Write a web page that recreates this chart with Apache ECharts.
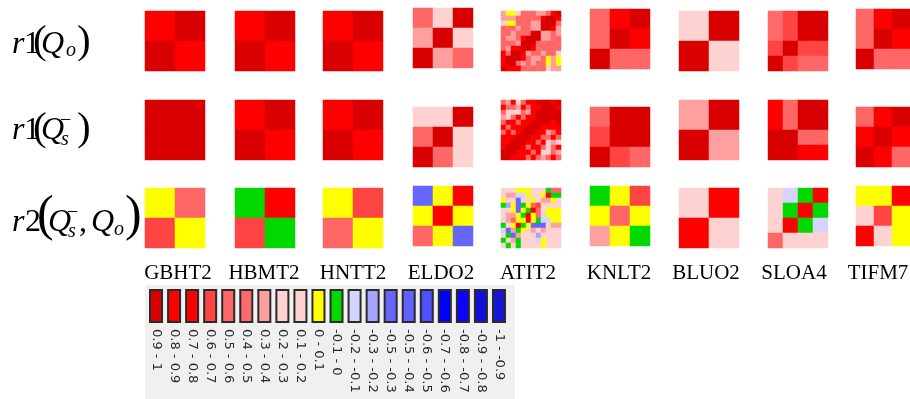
<!DOCTYPE html>
<html>
<head>
<meta charset="utf-8">
<script src="https://cdn.jsdelivr.net/npm/echarts@6/dist/echarts.min.js"></script>
<style>
  html, body { margin: 0; padding: 0; background: #fff; }
  #chart { width: 910px; height: 399px; }
</style>
</head>
<body>
<div id="chart"></div>
<script>
// Stations (one column of correlation matrices each)
const stations = ['GBHT2', 'HBMT2', 'HNTT2', 'ELDO2', 'ATIT2', 'KNLT2', 'BLUO2', 'SLOA4', 'TIFM7'];

// Correlation matrices, rows listed top to bottom as displayed.
// r1(Qo): lag-1 autocorrelation of observed flow
const r1Qo = [
  [[0.85, 1], [1, 0.85]],
  [[0.85, 1], [1, 0.85]],
  [[0.85, 1], [1, 0.85]],
  [[0.55, 0.25, 1], [0.35, 1, 0.25], [1, 0.35, 0.55]],
  [
    [0.35, 0.05, 0.05, 0.25, 0.55, 0.45, 0.55, 0.35, 0.35, 0.55, 0.82, 1],
    [0.35, 0.35, 0.35, 0.55, 0.45, 0.55, 0.45, 0.55, 0.82, 0.93, 1, 0.82],
    [0.25, 0.05, 0.05, 0.55, 0.45, 0.55, 0.35, 0.35, 0.93, 1, 0.93, 0.55],
    [0.55, 0.45, 0.55, 0.35, 0.55, 0.45, 0.35, 0.35, 1, 0.93, 0.82, 0.35],
    [0.45, 0.55, 0.35, 0.55, 0.45, 0.55, 0.93, 1, 0.35, 0.35, 0.55, 0.35],
    [0.55, 0.35, 0.35, 0.55, 0.82, 0.93, 1, 0.93, 0.35, 0.35, 0.45, 0.55],
    [0.45, 0.55, 0.45, 0.35, 0.93, 1, 0.93, 0.55, 0.45, 0.55, 0.55, 0.45],
    [0.55, 0.35, 0.82, 0.82, 1, 0.93, 0.82, 0.45, 0.55, 0.45, 0.45, 0.55],
    [0.82, 0.55, 0.93, 1, 0.82, 0.35, 0.55, 0.55, 0.35, 0.55, 0.55, 0.25],
    [0.82, 0.93, 1, 0.93, 0.82, 0.45, 0.35, 0.35, 0.55, 0.05, 0.35, 0.05],
    [0.82, 1, 0.93, 0.55, 0.35, 0.55, 0.35, 0.45, 0.45, 0.05, 0.35, 0.05],
    [1, 0.82, 0.82, 0.82, 0.55, 0.45, 0.55, 0.45, 0.55, 0.25, 0.35, 0.35]
  ],
  [[0.55, 0.85, 1], [0.55, 1, 0.85], [1, 0.55, 0.55]],
  [[0.25, 1], [1, 0.25]],
  [[0.45, 0.65, 0.95, 1], [0.45, 0.65, 1, 0.95], [0.65, 1, 0.65, 0.65], [1, 0.65, 0.55, 0.55]],
  [[0.55, 0.85, 1], [0.55, 1, 0.85], [1, 0.55, 0.55]]
];

// r1(Qs-): lag-1 autocorrelation of simulated flow
const r1Qs = [
  [[0.95, 1], [1, 0.95]],
  [[0.85, 1], [1, 0.85]],
  [[0.85, 1], [1, 0.85]],
  [[0.25, 0.25, 1], [0.55, 1, 0.25], [1, 0.55, 0.25]],
  [
    [0.55, 0.35, 0.82, 0.25, 0.55, 0.82, 0.82, 0.93, 0.93, 0.93, 0.82, 1],
    [0.82, 0.55, 0.55, 0.35, 0.82, 0.55, 0.82, 0.82, 0.93, 0.93, 1, 0.82],
    [0.55, 0.25, 0.25, 0.25, 0.55, 0.35, 0.82, 0.93, 0.93, 1, 0.93, 0.93],
    [0.35, 0.25, 0.55, 0.82, 0.55, 0.82, 0.82, 0.93, 1, 0.93, 0.93, 0.93],
    [0.55, 0.82, 0.82, 0.55, 0.82, 0.82, 0.93, 1, 0.93, 0.93, 0.82, 0.93],
    [0.82, 0.55, 0.82, 0.82, 0.82, 0.93, 1, 0.93, 0.82, 0.82, 0.82, 0.82],
    [0.55, 0.82, 0.55, 0.82, 0.93, 1, 0.93, 0.82, 0.82, 0.35, 0.55, 0.82],
    [0.82, 0.82, 0.82, 0.93, 1, 0.93, 0.82, 0.82, 0.55, 0.55, 0.82, 0.55],
    [0.82, 0.82, 0.93, 1, 0.93, 0.82, 0.82, 0.55, 0.82, 0.25, 0.35, 0.25],
    [0.82, 0.93, 1, 0.93, 0.82, 0.55, 0.82, 0.82, 0.55, 0.25, 0.55, 0.82],
    [0.93, 1, 0.93, 0.82, 0.82, 0.82, 0.55, 0.82, 0.25, 0.25, 0.55, 0.35],
    [1, 0.93, 0.82, 0.82, 0.82, 0.55, 0.82, 0.55, 0.35, 0.55, 0.82, 0.55]
  ],
  [[0.55, 0.95, 1], [0.65, 1, 0.95], [1, 0.65, 0.55]],
  [[0.35, 1], [1, 0.35]],
  [[0.85, 0.55, 0.95, 1], [0.85, 0.55, 1, 0.95], [0.95, 1, 0.55, 0.55], [1, 0.95, 0.85, 0.85]],
  [[0.55, 0.85, 1], [0.85, 1, 0.85], [1, 0.85, 0.55]]
];

// r2(Qs-, Qo): lag-2 cross-correlation between simulated and observed flow
const r2QsQo = [
  [[0.05, 0.55], [0.65, 0.05]],
  [[-0.05, 0.85], [0.65, -0.05]],
  [[0.05, 0.65], [0.55, 0.05]],
  [[-0.35, 0.05, 0.85], [0.05, 0.85, 0.05], [0.55, 0.05, -0.35]],
  [
    [0.25, 0.15, 0.25, 0.05, 0.05, 0.05, 0.25, 0.15, 0.25, -0.05, 0.55, 0.55],
    [0.15, 0.35, 0.35, -0.15, -0.15, 0.05, 0.25, 0.15, 0.05, 0.85, -0.05, -0.05],
    [0.05, 0.25, 0.15, -0.35, 0.25, 0.15, 0.05, 0.25, 0.35, 0.35, 0.05, 0.25],
    [-0.05, -0.25, 0.05, -0.35, -0.05, 0.05, 0.55, 0.65, 0.25, 0.15, 0.25, 0.15],
    [0.25, 0.15, 0.05, -0.35, 0.05, -0.05, 0.85, 0.55, 0.15, 0.05, 0.05, 0.05],
    [0.25, 0.35, 0.35, 0.05, -0.05, 0.85, 0.05, 0.55, -0.15, 0.05, 0.05, 0.05],
    [0.15, 0.35, 0.55, 0.05, 0.05, 0.85, 0.05, -0.05, -0.15, -0.15, 0.05, 0.05],
    [-0.05, 0.25, 0.05, 0.85, -0.05, 0.05, -0.35, -0.35, -0.35, 0.25, 0.35, 0.35],
    [-0.15, -0.35, 0.35, -0.05, 0.05, 0.25, 0.35, 0.25, 0.35, 0.15, 0.25, 0.25],
    [0.25, -0.05, -0.35, 0.35, 0.15, 0.25, 0.15, -0.25, 0.25, 0.15, 0.25, 0.15],
    [-0.05, 0.25, 0.35, -0.05, 0.15, 0.25, 0.15, -0.15, 0.05, 0.25, 0.15, 0.25],
    [0.25, -0.05, 0.15, -0.05, 0.25, 0.15, 0.25, 0.15, 0.05, 0.25, 0.15, 0.25]
  ],
  [[-0.05, 0.05, 0.65], [0.05, 0.55, 0.05], [0.35, 0.05, -0.05]],
  [[0.25, 0.85], [0.85, 0.25]],
  [[0.25, -0.15, -0.05, 0.85], [0.25, -0.05, 0.85, -0.05], [0.25, 0.85, -0.05, -0.15], [0.55, 0.25, 0.25, 0.25]],
  [[0.05, 0.05, 0.85], [0.25, 0.65, 0.05], [0.85, 0.25, 0.05]]
];

// Colour classes of the key
const binLabels = ['0.9 - 1', '0.8 - 0.9', '0.7 - 0.8', '0.6 - 0.7', '0.5 - 0.6', '0.4 - 0.5',
  '0.3 - 0.4', '0.2 - 0.3', '0.1 - 0.2', '0 - 0.1', '-0.1 - 0', '-0.2 - -0.1', '-0.3 - -0.2',
  '-0.5 - -0.3', '-0.5 - -0.4', '-0.6 - -0.5', '-0.7 - -0.6', '-0.8 - -0.7', '-0.9 - -0.8', '-1 - -0.9'];
const binLow  = [0.9, 0.8, 0.7, 0.6, 0.5, 0.4, 0.3, 0.2, 0.1, 0, -0.1, -0.2, -0.3, -0.4, -0.5, -0.6, -0.7, -0.8, -0.9, -1];
const binHigh = [1, 0.9, 0.8, 0.7, 0.6, 0.5, 0.4, 0.3, 0.2, 0.1, 0, -0.1, -0.2, -0.3, -0.4, -0.5, -0.6, -0.7, -0.8, -0.9];
const binColors = ['#d80000', '#ff0000', '#ff0000', '#ff4444', '#ff6666', '#ff6b6b', '#ffa0a0', '#ffd2d2',
  '#ffd2d2', '#ffff00', '#00d800', '#d4d4ff', '#a5a5ff', '#6666ff', '#6262ff', '#5050ff', '#0000ff',
  '#1000ff', '#1010d8', '#1515d2'];

// Layout of the matrix panel
const colLeft = [145, 235, 323, 413, 501, 590, 679, 768, 856];
const labelCenter = [178, 264, 353, 441, 528, 619, 706, 794, 878];
const rowTop = [11, 100, 188];
const rowShift = [
  [0, 0, 0, -3, 0, -2, 0, 0, -2],
  [0, 0, 0, 7, 0, 7, 0, 0, 7],
  [0, 0, 0, -2, 0, -2, 0, 0, -2]
];
const cellBox = 60;

const grids = [], xAxes = [], yAxes = [], series = [];
[r1Qo, r1Qs, r2QsQo].forEach((mats, ri) => {
  mats.forEach((m, ci) => {
    const k = grids.length;
    const n = m.length;
    const idx = Array.from({ length: n }, (_, i) => String(i));
    grids.push({ left: colLeft[ci], top: rowTop[ri] + rowShift[ri][ci], width: cellBox, height: cellBox });
    xAxes.push({ gridIndex: k, type: 'category', data: idx, show: false });
    yAxes.push({ gridIndex: k, type: 'category', data: idx, inverse: true, show: false });
    const data = [];
    m.forEach((row, r) => row.forEach((v, c) => data.push([c, r, v])));
    series.push({
      type: 'heatmap', xAxisIndex: k, yAxisIndex: k, data,
      itemStyle: { borderWidth: 0 }, emphasis: { disabled: true }, progressive: 0
    });
  });
});
const heatCount = series.length;

// Key: one swatch per colour class
const kg = grids.length;
grids.push({ left: 147, top: 289, width: 361, height: 34 });
xAxes.push({
  gridIndex: kg, type: 'category', data: binLabels,
  axisLine: { show: false }, axisTick: { show: false },
  axisLabel: { interval: 0, rotate: -90, margin: 6, fontFamily: 'DejaVu Sans', fontSize: 13, color: '#2a2a2a' }
});
yAxes.push({ gridIndex: kg, type: 'value', min: 0, max: 1, show: false });
series.push({
  type: 'bar', xAxisIndex: kg, yAxisIndex: kg, barWidth: 14, silent: true,
  data: binLabels.map((_, i) => ({ value: 1, itemStyle: { color: binColors[i] } })),
  itemStyle: { borderColor: '#2a2a2a', borderWidth: 2 }
});

const pieces = binLabels.map((_, i) => (i === 0
  ? { gte: binLow[i], lte: binHigh[i], color: binColors[i] }
  : { gte: binLow[i], lt: binHigh[i], color: binColors[i] }));

// Row titles, typeset piece by piece
const serif = '"Liberation Serif", "Times New Roman", serif';
function glyph(t, x, base, size, italic) {
  return {
    type: 'text', x: x, y: base - 0.34 * size, silent: true,
    style: {
      text: t, font: (italic ? 'italic ' : '') + size + 'px ' + serif,
      fill: '#000', textAlign: 'left', textVerticalAlign: 'middle'
    }
  };
}
const rowTitles = [
  glyph('r', 12, 55, 32, true), glyph('1', 24, 55, 32, false), glyph('(', 33, 56, 41, false),
  glyph('Q', 41, 55, 32, true), glyph('o', 66, 58, 20, true), glyph(')', 77, 56, 41, false),

  glyph('r', 12, 141, 32, true), glyph('1', 24, 141, 32, false), glyph('(', 33, 143, 41, false),
  glyph('Q', 41, 141, 32, true), glyph('\u2212', 60, 128, 20, false), glyph('s', 61, 147, 20, true),
  glyph(')', 77, 143, 41, false),

  glyph('r', 12, 233, 32, true), glyph('2', 25, 233, 32, false), glyph('(', 37, 234, 50, false),
  glyph('Q', 48, 233, 32, true), glyph('\u2212', 67, 220, 20, false), glyph('s', 68, 239, 20, true),
  glyph(',', 79, 233, 32, false), glyph('Q', 91, 233, 32, true), glyph('o', 114, 237, 20, true),
  glyph(')', 125, 234, 50, false)
];

const stationLabels = stations.map((s, i) => ({
  type: 'text', x: labelCenter[i], y: 273, silent: true,
  style: { text: s, font: '21px ' + serif, fill: '#000', textAlign: 'center', textVerticalAlign: 'middle' }
}));

const keyPanel = {
  type: 'rect', silent: true, z: -10,
  shape: { x: 145, y: 285, width: 370, height: 114 },
  style: { fill: '#f0f0f0' }
};

const chart = echarts.init(document.getElementById('chart'), null, { renderer: 'canvas' });
chart.setOption({
  animation: false,
  backgroundColor: '#ffffff',
  grid: grids,
  xAxis: xAxes,
  yAxis: yAxes,
  visualMap: {
    type: 'piecewise', show: false,
    seriesIndex: Array.from({ length: heatCount }, (_, i) => i),
    pieces: pieces
  },
  graphic: [keyPanel].concat(stationLabels, rowTitles),
  series: series
});
</script>
</body>
</html>
